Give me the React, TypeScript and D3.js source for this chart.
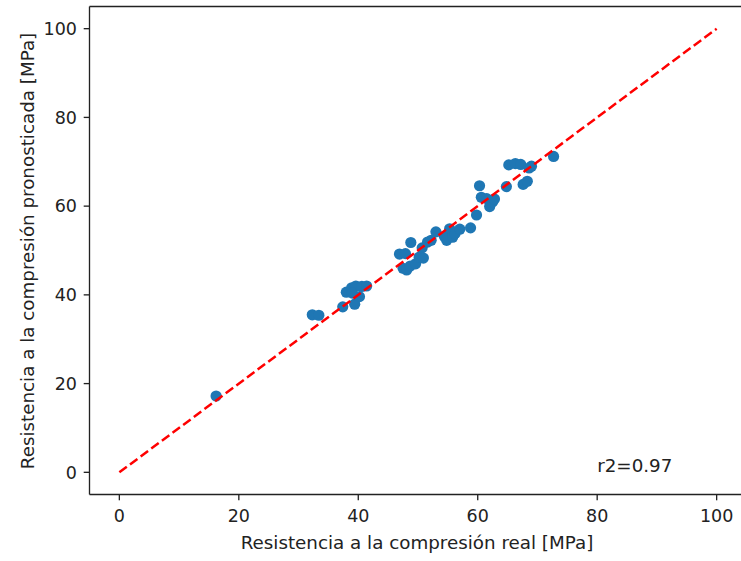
import React from "react";
import * as d3 from "d3";

const actual = [16.2, 32.3, 33.4, 37.4, 38.0, 38.9, 39.6, 40.6, 41.4, 39.4, 40.2, 39.0, 46.9, 47.9, 48.8, 47.5, 48.1, 48.7, 49.6, 50.2, 50.7, 50.9, 51.6, 52.2, 53.0, 54.4, 54.8, 55.3, 55.8, 56.2, 57.0, 58.8, 59.8, 60.3, 60.6, 61.5, 62.0, 62.5, 62.8, 64.8, 65.2, 66.3, 67.2, 67.6, 68.3, 68.6, 69.0, 72.7];
const predicted = [17.2, 35.5, 35.4, 37.3, 40.6, 41.6, 42.0, 41.9, 42.0, 37.9, 39.6, 40.4, 49.2, 49.3, 51.8, 46.0, 45.6, 46.5, 47.0, 48.5, 50.6, 48.3, 51.9, 52.3, 54.2, 53.2, 52.3, 54.9, 53.0, 53.8, 54.8, 55.1, 58.0, 64.6, 62.0, 61.7, 59.9, 61.0, 61.6, 64.4, 69.3, 69.6, 69.4, 64.9, 65.6, 68.6, 69.0, 71.2];
const ticks = [0, 20, 40, 60, 80, 100];
const identityLine = [0, 100];
const xLabel = "Resistencia a la compresión real [MPa]";
const yLabel = "Resistencia a la compresión pronosticada [MPa]";
const r2Text = "r2=0.97";

export default function App() {
  const W = 741, H = 561;
  const left = 89.5, right = 746.5, top = 6.5, bottom = 494.5;
  const x = d3.scaleLinear().domain([-5, 105]).range([left, right]);
  const y = d3.scaleLinear().domain([-5, 105]).range([bottom, top]);
  const fs = 17.5;
  const lfs = 18.3;
  const font = "DejaVu Sans, sans-serif";
  const line = d3.line<number>().x((d) => x(d)).y((d) => y(d));
  const axisColor = "#222";
  return (
    <svg width={W} height={H} style={{ position: "absolute", left: 0, top: 0, background: "#fff" }} fontFamily={font}>
      <rect x={0} y={0} width={W} height={H} fill="#fff" />
      {actual.map((a, i) => (
        <circle key={i} cx={x(a)} cy={y(predicted[i])} r={5.6} fill="#1f77b4" />
      ))}
      <path d={line(identityLine) || ""} fill="none" stroke="#ff0000" strokeWidth={2.5} strokeDasharray="9.25,4" />
      <text x={x(80)} y={y(0)} fontSize={lfs} fill="#222">{r2Text}</text>
      <line x1={left} x2={left} y1={top} y2={bottom} stroke={axisColor} strokeWidth={1.33} />
      <line x1={left} x2={right} y1={bottom} y2={bottom} stroke={axisColor} strokeWidth={1.33} />
      <line x1={left} x2={right} y1={top} y2={top} stroke={axisColor} strokeWidth={1.33} />
      <line x1={right} x2={right} y1={top} y2={bottom} stroke={axisColor} strokeWidth={1.33} />
      {ticks.map((t) => (
        <g key={"x" + t}>
          <line x1={x(t)} x2={x(t)} y1={bottom} y2={bottom + 5.8} stroke={axisColor} strokeWidth={1.33} />
          <text x={x(t)} y={521.5} textAnchor="middle" fontSize={fs} fill="#222">{t}</text>
        </g>
      ))}
      {ticks.map((t) => (
        <g key={"y" + t}>
          <line x1={left} x2={left - 5.8} y1={y(t)} y2={y(t)} stroke={axisColor} strokeWidth={1.33} />
          <text x={left - 12.5} y={y(t) + fs * 0.36} textAnchor="end" fontSize={fs} fill="#222">{t}</text>
        </g>
      ))}
      <text x={417} y={548.5} textAnchor="middle" fontSize={lfs} fill="#222">{xLabel}</text>
      <text transform={`translate(34,251) rotate(-90)`} textAnchor="middle" fontSize={lfs} fill="#222">{yLabel}</text>
    </svg>
  );
}
